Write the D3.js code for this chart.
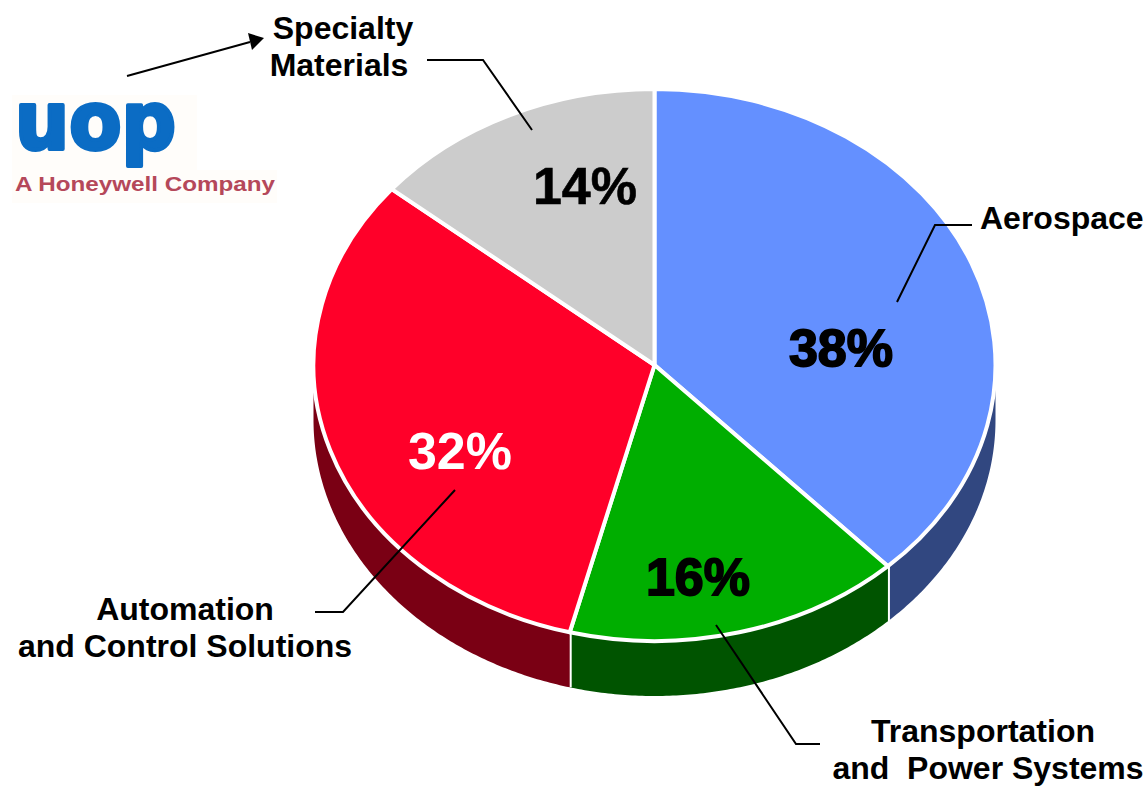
<!DOCTYPE html>
<html>
<head>
<meta charset="utf-8">
<script src="https://cdn.jsdelivr.net/npm/d3@7"></script>
<style>
    html, body { margin: 0; padding: 0; background: #fff; }
    svg { display: block; }
    text { font-family: "Liberation Sans", Arial, sans-serif; font-weight: bold; white-space: pre; }
</style>
</head>
<body>
<div id="chart"></div>
<script>
const categories = ['Aerospace', 'Transportation and Power Systems', 'Automation and Control Solutions', 'Specialty Materials'];
const shares = [38, 16, 32, 14];
const topColors = ['#6490ff', '#00ae00', '#ff0029', '#cccccc'];
const sideColors = ['#314780', '#005400', '#7a0014', '#666666'];

// Label text and leader lines, one entry per slice
const labelLines = [
    ['Aerospace'],
    ['Transportation', 'and  Power Systems'],
    ['Automation', 'and Control Solutions'],
    ['Specialty', 'Materials']
];
const labelAnchors = [
    { x: 980, y: 229, anchor: 'start', dx: [0] },
    { x: 983, y: 742, anchor: 'middle', dx: [0, 5] },
    { x: 185, y: 620, anchor: 'middle', dx: [0, 0] },
    { x: 341, y: 39, anchor: 'middle', dx: [2, -2] }
];
const leaders = [
    [[897, 302], [935, 225], [972, 225]],
    [[716, 625], [796, 744], [820, 744]],
    [[455, 490], [343, 612], [315, 612]],
    [[427, 60], [483, 60], [532, 130]]
];
const percentPos = [
    { x: 841, y: 366, color: '#000', fat: 1.8 },
    { x: 698, y: 595, color: '#000', fat: 1.8 },
    { x: 460, y: 469, color: '#fff', fat: 0 },
    { x: 585, y: 204, color: '#000', fat: 0.6 }
];

const width = 1148, height = 786;
const cx = 654.5, cy = 365;      // centre of the top face
const rx = 341, ry = 276;        // tilted pie, so the circle is squashed
const depth = 55;

const svg = d3.select('#chart').append('svg')
    .attr('width', width)
    .attr('height', height);

const pie = d3.pie().sort(null)(shares);

// Side wall: only the front half of the rim is visible
const wallArea = d3.area()
    .x(a => cx + rx * Math.sin(a))
    .y0(a => cy - ry * Math.cos(a))
    .y1(a => cy - ry * Math.cos(a) + depth);

const walls = svg.append('g');
pie.forEach((d, i) => {
    const start = Math.max(d.startAngle, Math.PI / 2);
    const end = Math.min(d.endAngle, Math.PI * 1.5);
    if (start >= end) return;
    const angles = d3.range(start, end, 0.01).concat(end);
    walls.append('path')
        .attr('d', wallArea(angles))
        .attr('fill', sideColors[i]);
    // white seam where two slices meet
    if (d.endAngle < Math.PI * 1.5) {
        walls.append('line')
            .attr('x1', cx + rx * Math.sin(end))
            .attr('x2', cx + rx * Math.sin(end))
            .attr('y1', cy - ry * Math.cos(end))
            .attr('y2', cy - ry * Math.cos(end) + depth)
            .attr('stroke', '#fff')
            .attr('stroke-width', 4);
    }
});

// Top face
const arc = d3.arc().innerRadius(0).outerRadius(rx);
svg.append('g')
    .attr('transform', `translate(${cx},${cy}) scale(1,${ry / rx})`)
    .selectAll('path')
    .data(pie)
    .join('path')
    .attr('d', arc)
    .attr('fill', (d, i) => topColors[i])
    .attr('stroke', '#fff')
    .attr('stroke-width', 4)
    .attr('stroke-linejoin', 'round')
    .attr('vector-effect', 'non-scaling-stroke');

// Leader lines
const line = d3.line();
svg.append('g')
    .selectAll('path')
    .data(leaders)
    .join('path')
    .attr('d', line)
    .attr('fill', 'none')
    .attr('stroke', '#000')
    .attr('stroke-width', 2);

// Percent labels
svg.append('g')
    .selectAll('text')
    .data(shares)
    .join('text')
    .attr('x', (d, i) => percentPos[i].x)
    .attr('y', (d, i) => percentPos[i].y)
    .attr('text-anchor', 'middle')
    .attr('font-size', 52)
    .attr('fill', (d, i) => percentPos[i].color)
    .attr('stroke', (d, i) => percentPos[i].color)
    .attr('stroke-width', (d, i) => percentPos[i].fat)
    .text(d => d + '%');

// Category labels
labelLines.forEach((rows, i) => {
    const a = labelAnchors[i];
    rows.forEach((row, j) => {
        svg.append('text')
            .attr('x', a.x + a.dx[j])
            .attr('y', a.y + j * 37)
            .attr('text-anchor', a.anchor)
            .attr('font-size', 32)
            .attr('fill', '#000')
            .text(row);
    });
});

// Arrow from the logo to Specialty Materials
svg.append('path')
    .attr('d', line([[127, 76], [250, 42]]))
    .attr('stroke', '#000')
    .attr('stroke-width', 2);
svg.append('path')
    .attr('d', 'M264,38 L248,33 L252,50 Z')
    .attr('fill', '#000');

// Logo
const logo = svg.append('g');
logo.append('rect')
    .attr('x', 12).attr('y', 95)
    .attr('width', 185).attr('height', 75)
    .attr('fill', '#fffdfa');
logo.append('rect')
    .attr('x', 12).attr('y', 170)
    .attr('width', 265).attr('height', 33)
    .attr('fill', '#fffdfa');
logo.append('text')
    .attr('x', 15)
    .attr('y', 149)
    .style('font-family', '"DejaVu Sans", sans-serif')
    .attr('font-size', 80)
    .attr('textLength', 161)
    .attr('lengthAdjust', 'spacingAndGlyphs')
    .attr('fill', '#0b6cc4')
    .attr('stroke', '#0b6cc4')
    .attr('stroke-width', 4)
    .attr('stroke-linejoin', 'round')
    .text('uop');
logo.append('text')
    .attr('x', 15)
    .attr('y', 191)
    .attr('font-size', 20.5)
    .attr('textLength', 260)
    .attr('lengthAdjust', 'spacingAndGlyphs')
    .attr('fill', '#b5485a')
    .text('A Honeywell Company');
</script>
</body>
</html>
